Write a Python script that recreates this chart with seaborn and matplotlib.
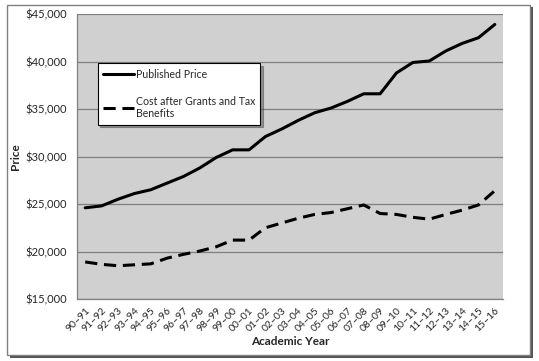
import numpy as np
import pandas as pd
import matplotlib.pyplot as plt
import matplotlib.patches as mpatches
from matplotlib.ticker import FuncFormatter, FixedLocator
import seaborn as sns

years = ['90–91', '91–92', '92–93', '93–94', '94–95', '95–96', '96–97', '97–98',
         '98–99', '99–00', '00–01', '01–02', '02–03', '03–04', '04–05', '05–06',
         '06–07', '07–08', '08–09', '09–10', '10–11', '11–12', '12–13', '13–14',
         '14–15', '15–16']
published = [24600, 24800, 25500, 26100, 26500, 27200, 27900, 28800, 29900, 30700,
             30700, 32100, 32900, 33800, 34600, 35100, 35800, 36600, 36600, 38800,
             39900, 40050, 41100, 41900, 42500, 43900]
net_cost = [18900, 18650, 18500, 18600, 18700, 19300, 19700, 20050, 20500, 21200,
            21200, 22500, 23000, 23500, 23900, 24100, 24500, 24900, 24000, 23900,
            23600, 23400, 23900, 24350, 24900, 26400]
series_names = ['Published Price', 'Cost after Grants and Tax\nBenefits']

df = pd.DataFrame({
    'year': years * 2,
    'price': published + net_cost,
    'series': [series_names[0]] * len(years) + [series_names[1]] * len(years),
})

sns.set_style('white')
plt.rcParams['font.family'] = ['Lato', 'DejaVu Sans']

fig = plt.figure(figsize=(5.39, 3.61), dpi=100)
ax = fig.add_axes([77 / 539, 1 - 299 / 361, 426 / 539, 285 / 361])
ax.set_facecolor('#d0d0d0')

sns.lineplot(data=df, x='year', y='price', style='series', color='black',
             dashes={series_names[0]: '', series_names[1]: (4, 2.2)},
             linewidth=2.2, ax=ax, sort=False)

ax.set_xlim(-0.5, len(years) - 0.5)
ax.set_ylim(15000, 45000)
ax.set_yticks(np.arange(15000, 45001, 5000))
ax.yaxis.set_major_formatter(FuncFormatter(lambda v, p: f'${v:,.0f}'))
ax.grid(axis='y', color='#7f7f7f', linewidth=0.9)
ax.set_axisbelow(True)

ax.set_xticks(range(len(years)))
ax.set_xticklabels(years, rotation=45, ha='right', rotation_mode='anchor', fontsize=7.5)
ax.tick_params(axis='x', which='major', length=0, pad=5)
ax.xaxis.set_minor_locator(FixedLocator(np.arange(-0.5, len(years), 1)))
ax.tick_params(axis='x', which='minor', length=4, color='#808080', width=0.8)
ax.tick_params(axis='y', length=4, color='#808080', labelsize=8)

for s in ['top', 'right']:
    ax.spines[s].set_visible(False)
for s in ['left', 'bottom']:
    ax.spines[s].set_color('#808080')
    ax.spines[s].set_linewidth(0.9)

ax.set_xlabel('Academic Year', fontsize=8.5, fontweight='bold', labelpad=2)
ax.set_ylabel('Price', fontsize=8.5, fontweight='bold', labelpad=3)

leg = ax.legend(loc='upper left', bbox_to_anchor=(0.036, 0.845), frameon=True,
                fancybox=False, shadow=True, fontsize=7.6, handlelength=2.9,
                labelspacing=1.5, borderpad=0.5, handletextpad=0.2)
leg.get_frame().set_edgecolor('black')
leg.get_frame().set_linewidth(0.8)
for h in leg.get_lines():
    h.set_linewidth(2.2)

# outer chart border with shadow
fig.patches.append(mpatches.Rectangle((10 / 539, 1 - 358 / 361), 523 / 539, 351 / 361,
                                      transform=fig.transFigure, facecolor='#555555',
                                      edgecolor='none', zorder=-2))
fig.patches.append(mpatches.Rectangle((7 / 539, 1 - 355 / 361), 523 / 539, 350 / 361,
                                      transform=fig.transFigure, facecolor='white',
                                      edgecolor='#808080', linewidth=1, zorder=-1))

fig.savefig('out.png', dpi=100)
